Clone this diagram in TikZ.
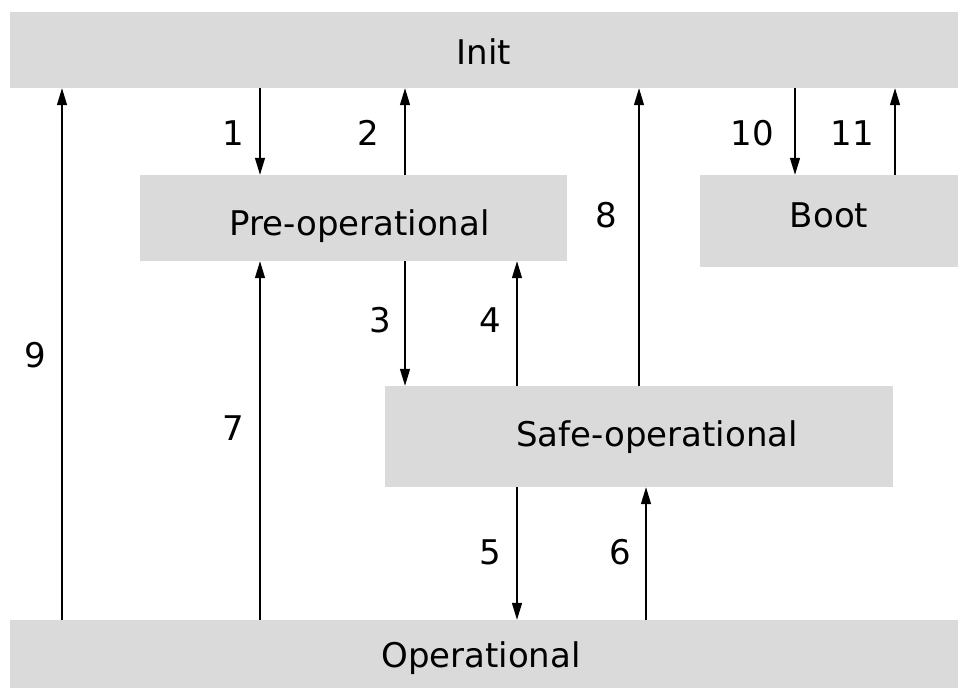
\documentclass[tikz,border=0pt]{standalone}
\usepackage{fontspec}
\setmainfont{DejaVu Sans}
\usetikzlibrary{arrows.meta}
\definecolor{boxgray}{RGB}{218,218,218}
\begin{document}
\begin{tikzpicture}[x=1pt,y=-1pt,
  box/.style={fill=boxgray, draw=none, inner sep=0pt, font=\fontsize{34}{40}\selectfont},
  num/.style={inner sep=0pt, font=\fontsize{34}{40}\selectfont},
  arr/.style={line width=1.3pt, -{Triangle[length=17pt,width=10pt]}}]
\useasboundingbox (0,0) rectangle (968,690);
% boxes
\node[box, minimum width=948pt, minimum height=76pt, label={[num, yshift=-2pt]center:Init}] (init) at (484,50) {};
\node[box, minimum width=427pt, minimum height=86pt, label={[num, xshift=6pt, yshift=-8pt]center:Pre-operational}] (pre) at (353.5,218) {};
\node[box, minimum width=258pt, minimum height=92pt, label={[num, yshift=6pt]center:Boot}] (boot) at (829,221) {};
\node[box, minimum width=508pt, minimum height=101pt, label={[num, xshift=18pt, yshift=-1pt]center:Safe-operational}] (safe) at (639,436.5) {};
\node[box, minimum width=948pt, minimum height=68pt, label={[num, xshift=-3pt, yshift=-4pt]center:Operational}] (op) at (484,654) {};
% columns
\coordinate (c9) at (62,0);
\coordinate (c1) at (260,0);
\coordinate (c2) at (405,0);
\coordinate (c4) at (517,0);
\coordinate (c8) at (639,0);
\coordinate (c6) at (646,0);
\coordinate (c10) at (795,0);
\coordinate (c11) at (895,0);
% arrows
\draw[arr] (init.south -| c1) -- (pre.north -| c1);
\draw[arr] (pre.north -| c2) -- (init.south -| c2);
\draw[arr] (pre.south -| c2) -- (safe.north -| c2);
\draw[arr] (safe.north -| c4) -- (pre.south -| c4);
\draw[arr] (safe.south -| c4) -- (op.north -| c4);
\draw[arr] (op.north -| c6) -- (safe.south -| c6);
\draw[arr] (op.north -| c1) -- (pre.south -| c1);
\draw[arr] (safe.north -| c8) -- (init.south -| c8);
\draw[arr] (op.north -| c9) -- (init.south -| c9);
\draw[arr] (init.south -| c10) -- (boot.north -| c10);
\draw[arr] (boot.north -| c11) -- (init.south -| c11);
% labels
\node[num] (l1) at (233,133) {1};
\node[num] (l2) at (368,133) {2};
\node[num] (l3) at (380,320) {3};
\node[num] (l4) at (490,320) {4};
\node[num] (l5) at (490,552) {5};
\node[num] (l6) at (620,552) {6};
\node[num] (l7) at (233,428) {7};
\node[num] (l8) at (606,215) {8};
\node[num] (l9) at (35,355) {9};
\node[num] (l10) at (752,133) {10};
\node[num] (l11) at (852,133) {11};
\end{tikzpicture}
\end{document}
